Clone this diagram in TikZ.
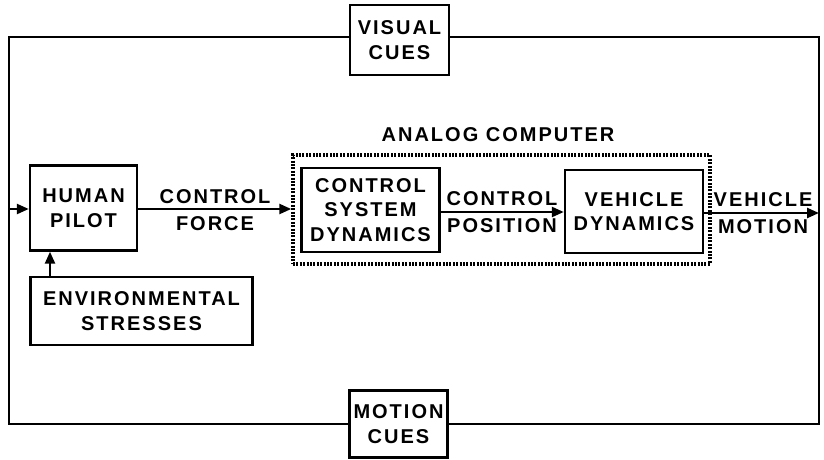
\documentclass[tikz,border=0pt]{standalone}
\usepackage{fontspec}
\setmainfont{Liberation Sans}[LetterSpace=10]
\usetikzlibrary{arrows.meta}
\begin{document}
\begin{tikzpicture}[x=1pt,y=-1pt,
  every node/.style={font=\bfseries\fontsize{20}{24.5}\selectfont, align=center, inner sep=0pt},
  blk/.style={draw, line width=2.4pt, minimum width=#1},
  conn/.style={line width=2.4pt},
  arr/.style={line width=2.4pt, -{Triangle[length=12pt,width=10pt]}},
]
\useasboundingbox (0,0) rectangle (824,460);
% blocks
\node[blk=107pt, minimum height=85pt] (pilot) at (83.5,208) {HUMAN\\PILOT};
\node[blk=222pt, minimum height=68pt] (env) at (141.5,311) {ENVIRONMENTAL\\STRESSES};
\node[blk=99pt, minimum height=70pt] (vis) at (399.5,40) {VISUAL\\CUES};
\node[blk=98pt, minimum height=67pt] (mot) at (398.5,424) {MOTION\\CUES};
\node[blk=138pt, minimum height=84pt] (csd) at (370.5,210) {CONTROL\\SYSTEM\\DYNAMICS};
\node[blk=138pt, minimum height=83pt] (vd) at (634,211.5) {VEHICLE\\DYNAMICS};
% analog computer
\node[draw, line width=3.5pt, dash pattern=on 2pt off 1.4pt, minimum width=417pt, minimum height=109pt] (ac) at (501.5,209.5) {};
\node (aclbl) at (498,135) {ANALOG COMPUTER};
% corners of loop
\coordinate (tl) at (9,37);
\coordinate (tr) at (819,37);
\coordinate (bl) at (9,424);
\coordinate (br) at (819,424);
\coordinate (lin) at (9,209);
\coordinate (rout) at (819,213);
% connectors
\draw[conn] (vis.west |- tl) -- (tl) -- (bl) -- (mot.west |- bl);
\draw[conn] (vis.east |- tr) -- (tr) -- (br) -- (mot.east |- br);
\draw[arr] (lin) -- (pilot.west |- lin);
\draw[arr] (env.north -| 50,0) -- (pilot.south -| 50,0);
\coordinate (cf) at (137,209);
\draw[arr] (pilot.east |- cf) -- (ac.west |- cf);
\coordinate (cp) at (440,212);
\draw[arr] (csd.east |- cp) -- (vd.west |- cp);
\coordinate (vm) at (703,213);
\draw[arr] (vd.east |- vm) -- (rout);
% labels
\node (lcf) at (215,210) {CONTROL\\[3pt]FORCE};
\node (lcp) at (502,212) {CONTROL\\[3pt]POSITION};
\node (lvm) at (763,213) {VEHICLE\\[3pt]MOTION};
\end{tikzpicture}
\end{document}
